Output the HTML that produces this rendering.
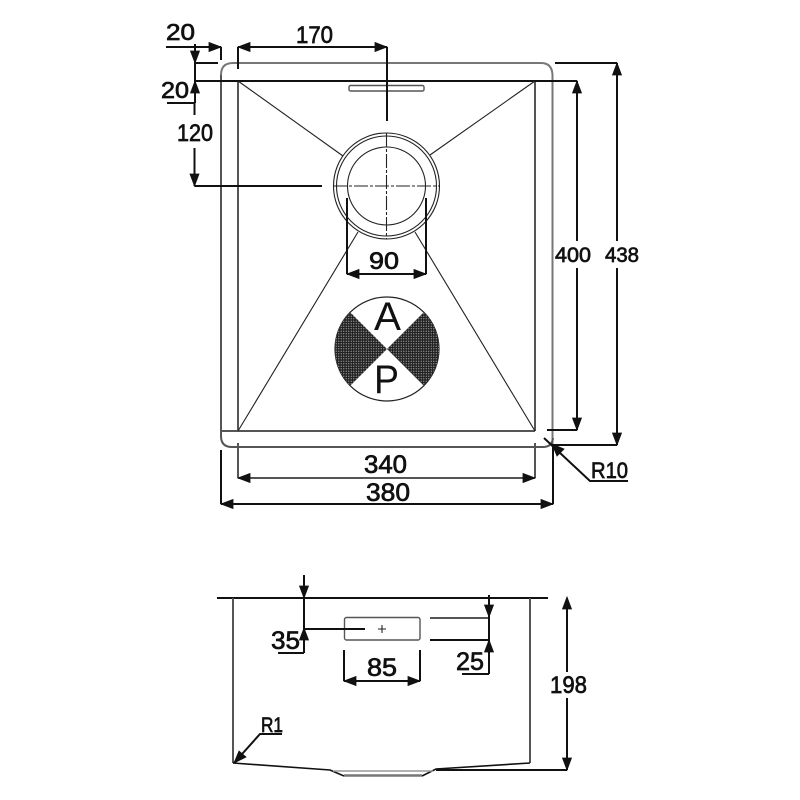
<!DOCTYPE html>
<html>
<head>
<meta charset="utf-8">
<style>
html,body{margin:0;padding:0;background:#fff;width:800px;height:800px;overflow:hidden}
svg{display:block;filter:blur(.3px)}
text{font-family:"Liberation Sans",sans-serif;fill:#111;stroke:#111;stroke-width:.7px}
.k{stroke:#111;stroke-width:2;fill:none}
.t{stroke:#222;stroke-width:1.100;fill:none}
.g{stroke:#555;stroke-width:2;fill:none}
.a{fill:#111;stroke:#111;stroke-width:.8}
</style>
</head>
<body>
<svg width="800" height="800" viewBox="0 0 800 800" xmlns="http://www.w3.org/2000/svg">
<defs>
<pattern id="dots" width="2.500" height="2.500" patternUnits="userSpaceOnUse">
<rect width="2.500" height="2.500" fill="#222"/>
<circle cx="1.250" cy="1.250" r=".6" fill="#aaa"/>
</pattern>
</defs>

<!-- Top view: sink outline -->
<path class="g" d="M221 75 Q221 63 233 63 H541 Q552 63 552.500 75 V447" style="stroke:#777"/>
<path class="g" d="M221 75 V436 Q221 447 232 447 H543 Q552 447 553 438"/>
<path class="g" d="M238 81 V431 M535 81 V431"/>
<path class="g" d="M221 431 H535"/>
<path class="k" d="M195 81 H552"/>

<!-- Slot -->
<rect x="349" y="85.500" width="75" height="5.500" rx="1.500" class="g" style="stroke-width:1.400"/>

<!-- Diagonals -->
<path class="t" d="M238 81 L343 156 M535 81 L430 155 M238 431 L358 232 M535 431 L415 232"/>

<!-- Waste circle -->
<circle cx="386.500" cy="186" r="53" class="t"/>
<circle cx="386.500" cy="186" r="50" class="t"/>
<circle cx="386.500" cy="186" r="39" class="t"/>
<path class="t" d="M333 186 H440 M386.500 133 V239" stroke-dasharray="14 2 3 2"/>

<!-- AP logo -->
<circle cx="387" cy="349" r="52" fill="#fff" stroke="#222" stroke-width="1.200"/>
<path d="M387 349 L350.200 312.200 A52 52 0 0 0 350.200 385.800 Z" fill="url(#dots)"/>
<path d="M387 349 L423.800 312.200 A52 52 0 0 1 423.800 385.800 Z" fill="url(#dots)"/>
<text x="374" y="330" font-size="40" textLength="27" lengthAdjust="spacingAndGlyphs" style="stroke-width:0">A</text>
<text x="374" y="393" font-size="40" textLength="25" lengthAdjust="spacingAndGlyphs" style="stroke-width:0">P</text>

<!-- Dimensions top view -->
<path class="k" d="M166 47 H221 M221 47 V60 M238 47 V69 M238 47 H387 M387 47 V121"/>
<polygon class="a" points="221,47 209,42.500 209,51.500"/>
<polygon class="a" points="238,47 250,42.500 250,51.500"/>
<polygon class="a" points="387,47 375,42.500 375,51.500"/>
<path class="k" d="M195 44 V103 M167 103 H195 M195 63 H218 M194.500 148 V186 M194.500 186 H322 M194.500 103 V115"/>
<polygon class="a" points="195,63 190.500,51 199.500,51"/>
<polygon class="a" points="195,81 190.500,93 199.500,93"/>
<polygon class="a" points="194.500,186 190,174 199,174"/>

<!-- 90 -->
<path class="k" d="M347 198 V274 M426 198 V274 M347 274 H426"/>
<polygon class="a" points="347,274 359,269.500 359,278.500"/>
<polygon class="a" points="426,274 414,269.500 414,278.500"/>

<!-- 400 / 438 -->
<path class="k" d="M547 81 H577 M577 81 V241 M577 268 V430 M547 430 H577"/>
<polygon class="a" points="577,81 572.500,93 581.500,93"/>
<polygon class="a" points="577,430 572.500,418 581.500,418"/>
<path class="k" d="M555 63 H617 M617 63 V241 M617 268 V445 M553 445 H617"/>
<polygon class="a" points="617,63 612.500,75 621.500,75"/>
<polygon class="a" points="617,445 612.500,433 621.500,433"/>

<!-- 340 / 380 -->
<path class="g" d="M238 443 V478 M535 443 V478 M238 478 H535"/>
<polygon class="a" points="238,478 250,473.500 250,482.500"/>
<polygon class="a" points="535,478 523,473.500 523,482.500"/>
<path class="k" d="M221 450 V504 M553 447 V504 M221 504 H553"/>
<polygon class="a" points="221,504 233,499.500 233,508.500"/>
<polygon class="a" points="553,504 541,499.500 541,508.500"/>

<!-- R10 -->
<path class="k" d="M544 438 L590 481 H628"/>
<polygon class="a" points="552,444 564,449 557,456"/>

<!-- Labels top view -->
<text x="166" y="40" font-size="23" textLength="29" lengthAdjust="spacingAndGlyphs">20</text>
<text x="296" y="43" font-size="24" textLength="37" lengthAdjust="spacingAndGlyphs">170</text>
<text x="161" y="98" font-size="23" textLength="28" lengthAdjust="spacingAndGlyphs">20</text>
<text x="177" y="141" font-size="24" textLength="36" lengthAdjust="spacingAndGlyphs">120</text>
<text x="369" y="269" font-size="24" textLength="30" lengthAdjust="spacingAndGlyphs">90</text>
<text x="555" y="262" font-size="21" textLength="36" lengthAdjust="spacingAndGlyphs">400</text>
<text x="605" y="262" font-size="21" textLength="34" lengthAdjust="spacingAndGlyphs">438</text>
<text x="364" y="473" font-size="25" textLength="43" lengthAdjust="spacingAndGlyphs">340</text>
<text x="366" y="501" font-size="25" textLength="44" lengthAdjust="spacingAndGlyphs">380</text>
<text x="591" y="478" font-size="22" textLength="37" lengthAdjust="spacingAndGlyphs">R10</text>

<!-- Side view -->
<path class="k" d="M217 598 H548"/>
<path class="g" d="M233 598 V763 M530 598 V763"/>
<path class="k" d="M233 763 L330 770 L344 776 M530 763 L436 769 L422 776" style="stroke-width:1.600"/>
<path d="M344 775.500 H422" stroke="#777" stroke-width="2.500" fill="none"/>
<path d="M333 771 H433" stroke="#999" stroke-width="1.500" fill="none"/>
<rect x="344.500" y="617.500" width="75.500" height="22.500" rx="2" class="g" style="stroke-width:1.400"/>
<path class="t" d="M382 625 V633 M378 629 H386"/>

<!-- 35 -->
<path class="k" d="M304 575 V653 M278 653 H304 M304 629 H365"/>
<polygon class="a" points="304,598 299.500,586 308.500,586"/>
<polygon class="a" points="304,628 299.500,640 308.500,640"/>

<!-- 25 -->
<path class="g" d="M430 618 H488" style="stroke-width:2"/>
<path class="k" d="M430 640 H489 M489 595 V674 M462 674 H489"/>
<polygon class="a" points="489,617 484.500,605 493.500,605"/>
<polygon class="a" points="489,640 484.500,652 493.500,652"/>

<!-- 85 -->
<path class="k" d="M344 650 V681 M420 650 V681 M344 681 H420"/>
<polygon class="a" points="344,681 356,676.500 356,685.500"/>
<polygon class="a" points="420,681 408,676.500 408,685.500"/>

<!-- 198 -->
<path class="k" d="M567 598 V672 M567 698 V770 M436 770 H567"/>
<polygon class="a" points="567,597 562.500,609 571.500,609"/>
<polygon class="a" points="567,770 562.500,758 571.500,758"/>

<!-- R1 -->
<path class="k" d="M282 734 H260 L234 763"/>
<polygon class="a" points="234,763 239,751 246,757"/>

<!-- Labels side view -->
<text x="271" y="649" font-size="25" textLength="29" lengthAdjust="spacingAndGlyphs">35</text>
<text x="456" y="670" font-size="25" textLength="28" lengthAdjust="spacingAndGlyphs">25</text>
<text x="367" y="676" font-size="25" textLength="30" lengthAdjust="spacingAndGlyphs">85</text>
<text x="550" y="693" font-size="24" textLength="37" lengthAdjust="spacingAndGlyphs">198</text>
<text x="261" y="732" font-size="21" textLength="22" lengthAdjust="spacingAndGlyphs">R1</text>
</svg>
</body>
</html>
